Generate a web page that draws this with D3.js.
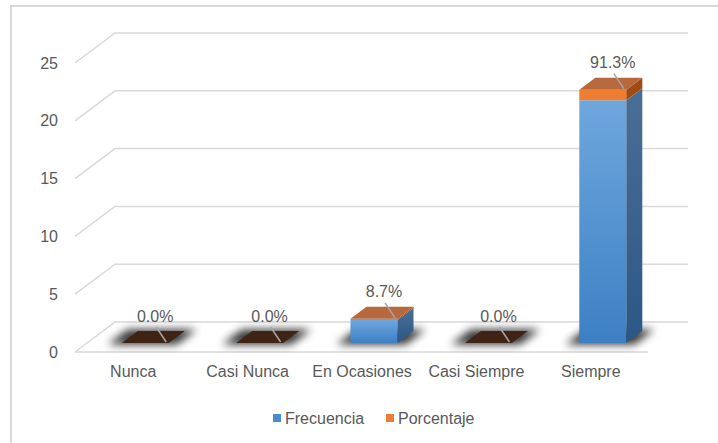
<html>

<head>
  <script src="https://d3js.org/d3.v7.min.js"></script>
  <style>
    body { margin: 0; background: #fff; }
    text { font-family: "Liberation Sans", Arial, sans-serif; fill: #595959; }
    .grid { fill: none; stroke: #d9d9d9; stroke-width: 1.5px; }
  </style>
</head>

<body>
  <svg id="chart" width="718" height="443"></svg>
  <script>
    // datos
    const categorias = ["Nunca", "Casi Nunca", "En Ocasiones", "Casi Siempre", "Siempre"];
    const frecuencia = [0, 0, 2, 0, 21];
    const porcentaje = [0, 0, 0.087, 0, 0.913];
    const yTicks = [0, 5, 10, 15, 20, 25];
    const series = ["Frecuencia", "Porcentaje"];

    const svg = d3.select('svg#chart');

    // profundidad del piso (vector hacia atras)
    const DX = 40, DY = -30;
    const t0 = 0.3, t1 = 0.7;

    const x = d3.scaleBand().domain(categorias).range([76, 648]);
    const y = d3.scaleLinear().domain([0, 25]).range([352, 63]);
    const barW = 47;

    const pt = (px, v, t) => [px + t * DX, y(v) + t * DY];

    // borde del area
    svg.append('rect')
      .attr('x', 11).attr('y', 6).attr('width', 720).attr('height', 450)
      .attr('fill', 'none').attr('stroke', '#d9d9d9').attr('stroke-width', 2);

    const defs = svg.append('defs');
    const grad = (id, stops) => {
      let g = defs.append('linearGradient').attr('id', id)
        .attr('x1', 0).attr('y1', 0).attr('x2', 0).attr('y2', 1);
      stops.forEach((c, i) => g.append('stop').attr('offset', i / (stops.length - 1)).attr('stop-color', c));
    };
    grad('blueFront', ['#6fa7dd', '#3c80c4']);
    grad('blueSide', ['#4a6f96', '#2b5786']);
    defs.append('filter').attr('id', 'blur')
      .attr('x', -1).attr('y', -1).attr('width', 3).attr('height', 3)
      .append('feGaussianBlur').attr('stdDeviation', 4);

    // lineas de la cuadricula
    const grid = svg.append('g');
    yTicks.forEach(v => {
      let a = pt(75, v, 0), b = pt(75, v, 1), c = [688, y(v) + DY];
      grid.append('path').attr('class', 'grid')
        .attr('d', d3.line()([a, b, c]));
    });
    grid.append('path').attr('class', 'grid')
      .attr('d', d3.line()([[75, y(0)], [648, y(0)]]));

    // eje Y
    svg.append('g')
      .attr('transform', 'translate(75,0)')
      .call(d3.axisLeft(y).tickValues(yTicks).tickSize(0).tickPadding(17))
      .call(g => g.select('.domain').remove())
      .selectAll('text').style('font-size', '16px').attr('fill', '#595959');

    // eje X
    svg.append('g')
      .attr('transform', 'translate(0,366)')
      .call(d3.axisBottom(x).tickSize(0).tickPadding(0))
      .call(g => g.select('.domain').remove())
      .selectAll('text').style('font-size', '16px').attr('fill', '#595959');

    const poly = pts => d3.line()(pts) + 'Z';
    const bars = svg.append('g');

    categorias.forEach((c, i) => {
      const cx = x(c) + x.bandwidth() / 2;
      const xl = cx - barW / 2, xr = cx + barW / 2;
      const f = frecuencia[i], p = porcentaje[i];
      const total = f + p;

      // sombra
      bars.append('path')
        .attr('d', poly([pt(xl - 12, 0, t0 - 0.05), pt(xr + 10, 0, t0 - 0.05), pt(xr + 10, 0, t1 + 0.05), pt(xl - 12, 0, t1 + 0.05)]))
        .attr('fill', '#000').attr('opacity', 0.8).attr('filter', 'url(#blur)');

      const segs = [
        { v0: 0, v1: f, front: 'url(#blueFront)', side: 'url(#blueSide)' },
        { v0: f, v1: total, front: '#ef7d31', side: '#a34a12' }
      ];
      segs.forEach(s => {
        if (s.v1 <= s.v0) return;
        bars.append('path').attr('fill', s.front)
          .attr('d', poly([pt(xl, s.v0, t0), pt(xr, s.v0, t0), pt(xr, s.v1, t0), pt(xl, s.v1, t0)]));
        bars.append('path').attr('fill', s.side)
          .attr('d', poly([pt(xr, s.v0, t0), pt(xr, s.v0, t1), pt(xr, s.v1, t1), pt(xr, s.v1, t0)]));
      });
      // cara superior
      bars.append('path').attr('fill', total > 0 ? '#b7683c' : '#3f2415')
        .attr('d', poly([pt(xl, total, t0), pt(xr, total, t0), pt(xr, total, t1), pt(xl, total, t1)]));

      // etiqueta de porcentaje
      const tc = pt(cx, total, 0.5);
      bars.append('line')
        .attr('x1', tc[0] + 3).attr('y1', tc[1] - 10)
        .attr('x2', tc[0] + 13).attr('y2', tc[1] + 5)
        .attr('stroke', '#a6a6a6').attr('stroke-width', 1.5);
      bars.append('text')
        .attr('x', tc[0] + 2).attr('y', tc[1] - 21)
        .attr('text-anchor', 'middle').attr('dy', '0.35em')
        .style('font-size', '16px')
        .text(d3.format('.1%')(p));
    });

    // leyenda
    const colores = d3.scaleOrdinal(series, ['#4a8ad0', '#ef7d31']);
    const leg = svg.append('g').attr('transform', 'translate(273,418)');
    const posX = [0, 113];
    series.forEach((s, i) => {
      leg.append('rect').attr('x', posX[i]).attr('y', -4).attr('width', 8).attr('height', 8)
        .attr('fill', colores(s));
      leg.append('text').attr('x', posX[i] + 12).attr('dy', '0.35em')
        .style('font-size', '16px').text(s);
    });
  </script>

</body>

</html>
